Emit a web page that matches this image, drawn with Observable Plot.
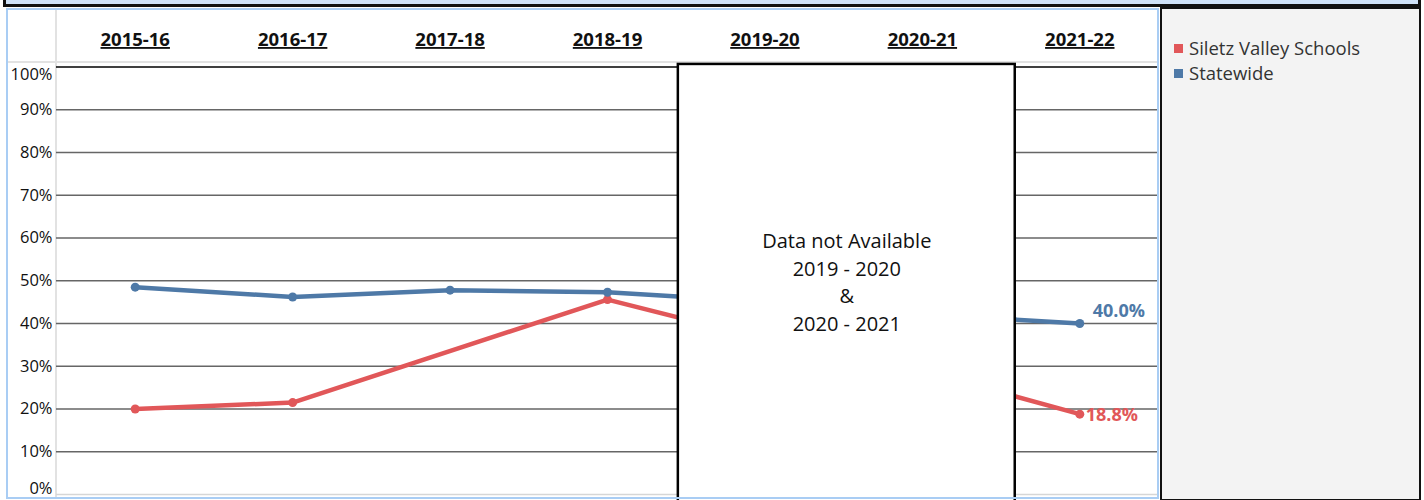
<!DOCTYPE html>
<html>
<head>
<meta charset="utf-8">
<script src="https://cdn.jsdelivr.net/npm/d3@7"></script>
<script src="https://cdn.jsdelivr.net/npm/@observablehq/plot@0.6"></script>
<style>
  html, body { margin: 0; padding: 0; background: #fff; }
  body { font-family: "Open Sans", sans-serif; }
  #wrap { position: relative; width: 1424px; height: 500px; overflow: hidden; }
  .abs { position: absolute; box-sizing: border-box; }
  #topband { left: 3px; top: -4px; width: 1418px; height: 11px; border: 3px solid #111; background: #cfe2f8; }
  #panel { left: 6px; top: 8px; width: 1153px; height: 491px; border: 2px solid #a9cdf4; pointer-events: none; }
  #hsep { left: 8px; top: 61px; width: 1149px; height: 2px; background: #e2e2e2; }
  #vsep { left: 55px; top: 10px; width: 2px; height: 487px; background: #e2e2e2; }
  #chart { left: 0; top: 0; }
  #legend { left: 1160px; top: 7px; width: 261px; height: 494px; border: 2.5px solid #111; background: #f3f3f3; }
  .item { position: absolute; left: 27px; height: 24px; line-height: 24px; font-size: 18.5px; color: #333; white-space: nowrap; }
  .sw { position: absolute; left: -15px; top: 8px; width: 9px; height: 9px; }
  .xlab text { text-decoration: underline; }
</style>
</head>
<body>
<div id="wrap">
  <div id="topband" class="abs"></div>
  <div id="hsep" class="abs"></div>
  <div id="vsep" class="abs"></div>
  <div id="chart" class="abs"></div>
  <div id="panel" class="abs"></div>
  <div id="legend" class="abs"></div>
</div>
<script>
const years = ["2015-16", "2016-17", "2017-18", "2018-19", "2019-20", "2020-21", "2021-22"];
const seriesNames = ["Siletz Valley Schools", "Statewide"];
const seriesColors = ["#e15759", "#4e79a7"];
const siletz = [20.0, 21.5, null, 45.6, 36.3, 28.9, 18.8];
const statewide = [48.5, 46.2, 47.8, 47.3, 45.1, 42.2, 40.0];
const yTicks = [0, 10, 20, 30, 40, 50, 60, 70, 80, 90, 100];
const missingYears = ["2019-20", "2020-21"];
const noteLines = ["Data not Available", "2019 - 2020", "&", "2020 - 2021"];

const values = [siletz, statewide];
const data = [];
seriesNames.forEach((s, k) => {
  years.forEach((yr, i) => {
    if (values[k][i] != null) data.push({ year: yr, i, series: s, value: values[k][i] });
  });
});
const visible = data.filter(d => !missingYears.includes(d.year));
const lastYear = years[years.length - 1];
const lastRed = data.filter(d => d.year === lastYear && d.series === seriesNames[0]);
const lastBlue = data.filter(d => d.year === lastYear && d.series === seriesNames[1]);
const gap = [{ from: years.indexOf(missingYears[0]), to: years.indexOf(missingYears[missingYears.length - 1]) }];

const font = "'Open Sans', sans-serif";
const plot = Plot.plot({
  width: 1160,
  height: 500,
  marginLeft: 56,
  marginRight: 2,
  marginTop: 66.5,
  marginBottom: 6,
  style: { fontFamily: font, background: "transparent", overflow: "visible", color: "#000" },
  x: { type: "linear", domain: [-0.5, years.length - 0.5], label: null },
  y: { domain: [0, 100], label: null },
  color: { domain: seriesNames, range: seriesColors },
  marks: [
    Plot.ruleY(yTicks.filter(t => t > 0 && t < 100), { stroke: "#666", strokeWidth: 1.3 }),
    Plot.ruleY(yTicks.filter(t => t === 100), { stroke: "#000", strokeWidth: 1.3 }),
    Plot.ruleY(yTicks.filter(t => t === 0), { stroke: "#d6d6d6", strokeWidth: 1.3 }),
    Plot.line(data, { x: "i", y: "value", z: "series", stroke: "series", strokeWidth: 4.5 }),
    Plot.dot(visible, { x: "i", y: "value", fill: "series", r: 4.5 }),
    Plot.rect(gap, { x1: d => d.from - 0.55, x2: d => d.to + 0.59, y1: -3, y2: 100.6, fill: "#fff", stroke: "#000", strokeWidth: 2.5 }),
    Plot.text([noteLines.join("\n")], { x: d => (gap[0].from + gap[0].to) / 2 + 0.02, y: 50, text: d => d, fontSize: 20, lineHeight: 1.385, fill: "#111", fontFamily: font }),
    Plot.text(lastBlue, { x: "i", y: "value", text: d => d.value.toFixed(1) + "%", fill: "series", fontWeight: "bold", fontSize: 18, textAnchor: "start", dx: 13, dy: -12, fontFamily: font }),
    Plot.text(lastRed, { x: "i", y: "value", text: d => d.value.toFixed(1) + "%", fill: "series", fontWeight: "bold", fontSize: 18, textAnchor: "start", dx: 6, dy: 1, fontFamily: font }),
    Plot.axisY(yTicks.filter(t => t > 0 && t < 100), { tickSize: 0, tickPadding: 4, fontSize: 16.5, tickFormat: d => d + "%", fill: "#111", label: null }),
    Plot.axisY(yTicks.filter(t => t === 100), { tickSize: 0, tickPadding: 4, fontSize: 16.5, tickFormat: d => d + "%", dy: 8, fill: "#111", label: null }),
    Plot.axisY(yTicks.filter(t => t === 0), { tickSize: 0, tickPadding: 4, fontSize: 16.5, tickFormat: d => d + "%", dy: -6, fill: "#111", label: null }),
    Plot.axisX(d3.range(years.length), { anchor: "top", tickSize: 0, tickPadding: 21, tickFormat: i => years[i], fontSize: 18.5, fontWeight: "bold", className: "xlab", fill: "#111", label: null })
  ]
});
document.getElementById("chart").appendChild(plot);

const legend = document.getElementById("legend");
seriesNames.forEach((s, k) => {
  const item = document.createElement("div");
  item.className = "item";
  item.style.top = (27 + k * 25) + "px";
  const sw = document.createElement("span");
  sw.className = "sw";
  sw.style.background = seriesColors[k];
  item.appendChild(sw);
  item.appendChild(document.createTextNode(s));
  legend.appendChild(item);
});
</script>
</body>
</html>
